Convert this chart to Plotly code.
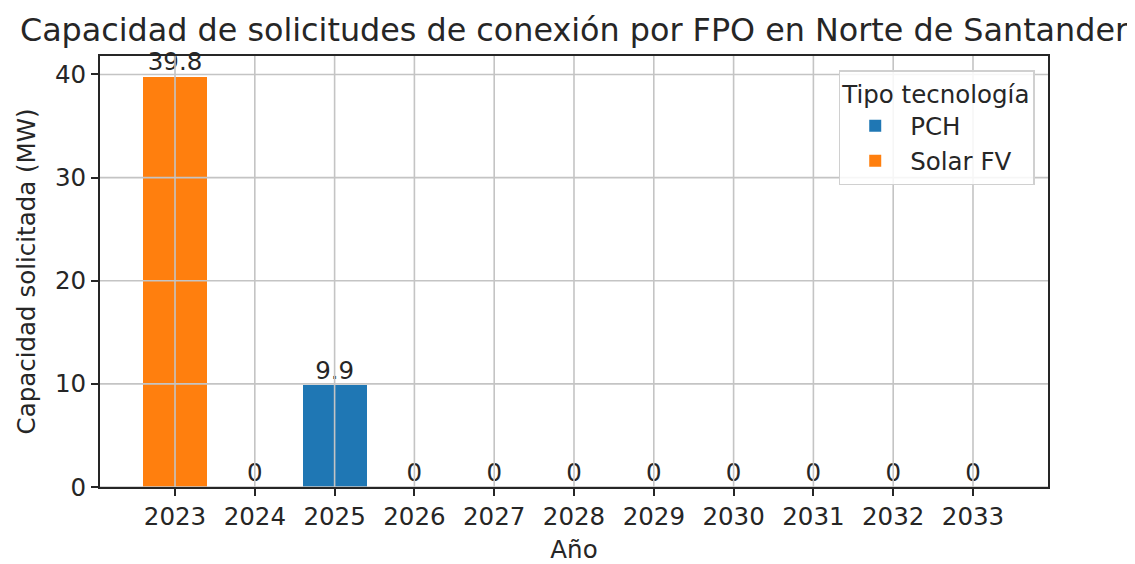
import plotly.graph_objects as go

years = [2023, 2024, 2025, 2026, 2027, 2028, 2029, 2030, 2031, 2032, 2033]
pch = [0, 0, 9.9, 0, 0, 0, 0, 0, 0, 0, 0]
solar = [39.8, 0, 0, 0, 0, 0, 0, 0, 0, 0, 0]
totals = [a + b for a, b in zip(pch, solar)]
labels = [("%g" % t) for t in totals]
y_ticks = [0, 10, 20, 30, 40]

FONT = "DejaVu Sans"
FS = 24.5
fig = go.Figure()
fig.add_trace(go.Bar(x=years, y=pch, name="PCH", legendgroup="a",
                     marker=dict(color="#1f77b4", line=dict(width=0)), width=0.8))
fig.add_trace(go.Bar(x=years, y=solar, name="Solar FV", legendgroup="b",
                     marker=dict(color="#ff7f0e", line=dict(width=0)), width=0.8))
fig.add_trace(go.Scatter(x=years, y=totals, mode="text", text=labels, textposition="top center",
                         textfont=dict(family=FONT, size=FS, color="#262626"), showlegend=False,
                         cliponaxis=False, hoverinfo="skip"))

ymax = max(totals) * 1.05
xr = [years[0] - 0.4 - 0.54, years[-1] + 0.4 + 0.54]

shapes = []
for x in years:
    shapes.append(dict(type="line", xref="x", yref="paper", x0=x, x1=x, y0=0, y1=1, layer="above",
                       line=dict(color="#c4c4c4", width=1.6)))
for y in y_ticks:
    shapes.append(dict(type="line", xref="paper", yref="y", x0=0, x1=1, y0=y, y1=y, layer="above",
                       line=dict(color="#c4c4c4", width=1.6)))

fig.update_layout(
    barmode="stack",
    width=1119, height=556,
    margin=dict(l=92, r=79, t=48, b=77),
    paper_bgcolor="white", plot_bgcolor="white",
    font=dict(family=FONT, size=FS, color="#262626"),
    title=dict(text="Capacidad de solicitudes de conexión por FPO en Norte de Santander",
               x=0.5, xref="paper", xanchor="center", y=0.9604, yanchor="middle",
               font=dict(family=FONT, size=31.8, color="#262626")),
    xaxis=dict(range=xr, tickmode="array", tickvals=years, ticktext=[str(y) for y in years],
               showgrid=False, zeroline=False, showline=True, linecolor="#262626", linewidth=2, mirror=True,
               ticks="outside", ticklen=7, tickwidth=2, tickcolor="#262626", automargin=False,
               title=dict(text="Año", font=dict(family=FONT, size=FS), standoff=18),
               tickfont=dict(family=FONT, size=FS)),
    yaxis=dict(range=[0, ymax], tickmode="array", tickvals=y_ticks,
               showgrid=False, zeroline=False, showline=True, linecolor="#262626", linewidth=2, mirror=True,
               ticks="outside", ticklen=7, tickwidth=2, tickcolor="#262626", automargin=False,
               title=dict(text="Capacidad solicitada (MW)", font=dict(family=FONT, size=FS), standoff=12),
               tickfont=dict(family=FONT, size=FS)),
    legend=dict(title=dict(text="Tipo tecnología", font=dict(family=FONT, size=FS)),
                x=0.986, xanchor="right", y=0.9675, yanchor="top",
                bgcolor="rgba(255,255,255,0.85)", bordercolor="#d0d0d0", borderwidth=1.5,
                font=dict(family=FONT, size=FS), traceorder="normal", tracegroupgap=12,
                itemwidth=60),
    shapes=shapes,
    showlegend=True,
)

fig.write_html("out.html")
